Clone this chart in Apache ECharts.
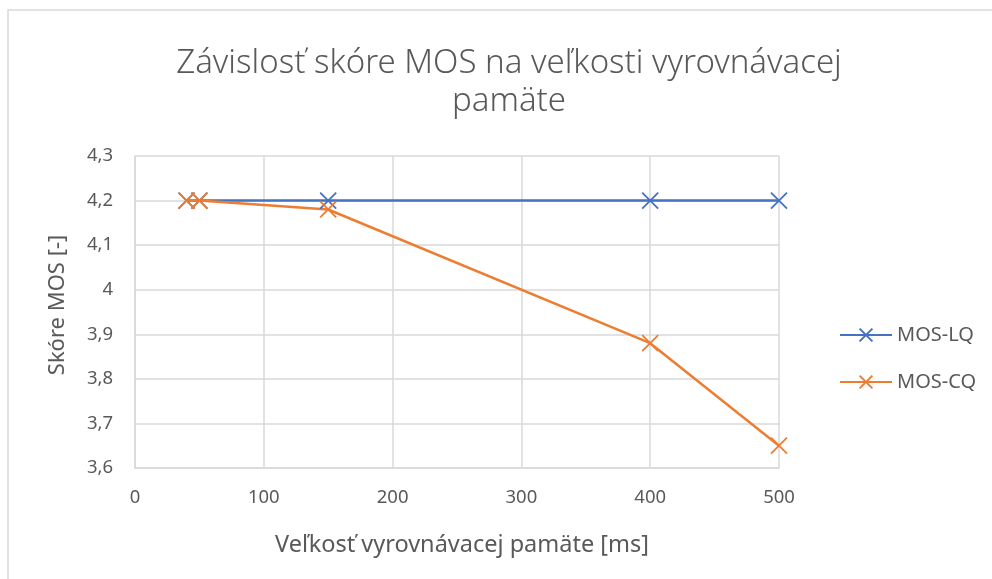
<!DOCTYPE html>
<html>
<head>
<meta charset="utf-8">
<script src="https://cdn.jsdelivr.net/npm/echarts@6/dist/echarts.min.js"></script>
<style>html,body{margin:0;padding:0;background:#fff}#c{width:992px;height:579px}</style>
</head>
<body>
<div id="c"></div>
<script>
var titleText = 'Závislosť skóre MOS na veľkosti vyrovnávacej\npamäte';
var xAxisName = 'Veľkosť vyrovnávacej pamäte [ms]';
var yAxisName = 'Skóre MOS [-]';
var bufferSizes = [40, 50, 150, 400, 500];
var mosLQ = [4.2, 4.2, 4.2, 4.2, 4.2];
var mosCQ = [4.2, 4.2, 4.18, 3.88, 3.65];
var seriesNames = ['MOS-LQ', 'MOS-CQ'];

var FONT = 'Noto Sans';
var xSym = 'path://M0,0L10,10M10,0L0,10';
function pts(xs, ys){ return xs.map(function(x,i){return [x, ys[i]];}); }
function mk(name, data, color){
  return {
    name: name, type: 'line', data: data,
    symbol: xSym, symbolSize: 16,
    itemStyle: {color: color, borderColor: color, borderWidth: 1.8},
    lineStyle: {color: color, width: 2.5},
    emphasis: {disabled: true}
  };
}
var chart = echarts.init(document.getElementById('c'), null, {renderer: 'canvas'});
chart.setOption({
  animation: false,
  backgroundColor: '#fff',
  graphic: [{type: 'rect', shape: {x: 8, y: 10, width: 1000, height: 600},
    style: {fill: 'none', stroke: '#d9d9d9', lineWidth: 1.5}, z: -1}],
  title: {
    text: titleText, left: 504, top: 40, textAlign: 'center',
    textStyle: {fontFamily: FONT, fontWeight: 300, fontSize: 33, color: '#595959', lineHeight: 38}
  },
  legend: {
    orient: 'vertical', left: 834, top: 320, itemWidth: 52, itemHeight: 16, itemGap: 27,
    textStyle: {fontFamily: FONT, fontSize: 20, color: '#595959', padding: [0,0,0,0]},
    data: seriesNames
  },
  grid: {left: 135, right: 213, top: 156, bottom: 111, containLabel: false},
  xAxis: {
    type: 'value', min: 0, max: 500, interval: 100,
    name: xAxisName, nameLocation: 'middle', nameGap: 65,
    nameTextStyle: {fontFamily: FONT, fontSize: 23.5, color: '#595959', padding: [0,0,0,10]},
    axisLine: {show: true, lineStyle: {color: '#d9d9d9', width: 1.5}},
    axisTick: {show: false},
    axisLabel: {fontFamily: FONT, fontSize: 18.5, color: '#595959', margin: 20},
    splitLine: {show: true, lineStyle: {color: '#d9d9d9', width: 1.5}}
  },
  yAxis: {
    type: 'value', min: 3.6, max: 4.3, interval: 0.1,
    name: yAxisName, nameLocation: 'middle', nameGap: 66, nameRotate: 90,
    nameTextStyle: {fontFamily: FONT, fontSize: 22, color: '#595959', padding: [0,0,0,14]},
    axisLine: {show: true, lineStyle: {color: '#d9d9d9', width: 1.5}},
    axisTick: {show: false},
    axisLabel: {fontFamily: FONT, fontSize: 18.5, color: '#595959', margin: 22,
      formatter: function(v){ return String(Math.round(v*10)/10).replace('.', ','); }},
    splitLine: {show: true, lineStyle: {color: '#d9d9d9', width: 1.5}}
  },
  series: [
    mk(seriesNames[0], pts(bufferSizes, mosLQ), '#4472C4'),
    mk(seriesNames[1], pts(bufferSizes, mosCQ), '#ED7D31')
  ]
});
</script>
</body>
</html>
